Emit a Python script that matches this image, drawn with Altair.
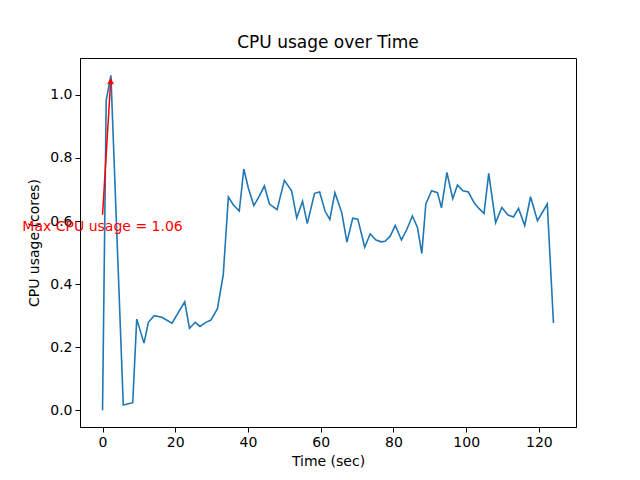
import altair as alt
import pandas as pd

time_sec = [0, 1.0, 2.3, 5.7, 8.3, 9.4, 11.4, 12.6, 14.2, 16.3,
            19.1, 22.6, 23.9, 25.5, 26.8, 28.3, 29.8, 31.6, 33.2, 34.6,
            36.0, 37.6, 38.85, 40.1, 41.6, 43.1, 44.5, 45.9, 48.0, 50.0,
            52.0, 53.4, 55.0, 56.3, 58.3, 59.7, 61.2, 62.5, 63.9, 65.8,
            67.2, 68.8, 70.2, 72.1, 73.6, 75.2, 76.6, 77.7, 79.1, 80.5,
            82.2, 83.7, 85.2, 86.6, 87.8, 88.9, 90.5, 92.1, 93.2, 94.7,
            96.3, 97.6, 99.1, 100.6, 102.2, 103.5, 104.9, 106.2, 108.1, 109.8,
            111.5, 113.0, 114.4, 116.1, 117.7, 119.6, 122.3, 124.0]
cpu_cores = [0.0, 0.983, 1.062, 0.017, 0.024, 0.289, 0.213, 0.279, 0.30, 0.295,
             0.276, 0.344, 0.26, 0.279, 0.266, 0.278, 0.286, 0.322, 0.43, 0.676,
             0.651, 0.632, 0.765, 0.704, 0.649, 0.679, 0.711, 0.654, 0.636, 0.729,
             0.696, 0.61, 0.663, 0.592, 0.688, 0.692, 0.631, 0.605, 0.69, 0.626,
             0.533, 0.609, 0.606, 0.517, 0.559, 0.54, 0.534, 0.536, 0.552, 0.586,
             0.54, 0.574, 0.616, 0.58, 0.497, 0.654, 0.696, 0.69, 0.642, 0.754,
             0.671, 0.714, 0.696, 0.692, 0.658, 0.64, 0.624, 0.751, 0.595, 0.643,
             0.619, 0.613, 0.64, 0.586, 0.677, 0.601, 0.654, 0.277]

x_ticks = [0, 20, 40, 60, 80, 100, 120]
y_ticks = [0.0, 0.2, 0.4, 0.6, 0.8, 1.0]

df = pd.DataFrame({"t": time_sec, "cpu": cpu_cores})
imax = max(range(len(cpu_cores)), key=lambda i: cpu_cores[i])
max_t, max_v = time_sec[imax], cpu_cores[imax]
label = f"Max CPU usage = {max_v:.2f}"

text_pos = {"t": 0.0, "cpu": 0.58}
arrow_start = {"t": 0.0, "cpu": 0.62}

xscale = alt.Scale(domain=[-6.2, 130.2], nice=False, zero=False)
yscale = alt.Scale(domain=[-0.053, 1.117], nice=False, zero=False)

xaxis = alt.Axis(values=x_ticks, format="d", title="Time (sec)", grid=False)
yaxis = alt.Axis(values=y_ticks, format=".1f", title="CPU usage (cores)", grid=False)

line = alt.Chart(df).mark_line(color="#1f77b4", strokeWidth=1.6).encode(
    x=alt.X("t:Q", scale=xscale, axis=xaxis),
    y=alt.Y("cpu:Q", scale=yscale, axis=yaxis),
)

arrow_df = pd.DataFrame({"t": [arrow_start["t"]], "cpu": [arrow_start["cpu"]],
                         "t2": [max_t - 0.05], "cpu2": [max_v - 0.015]})
arrow = alt.Chart(arrow_df).mark_rule(color="red", strokeWidth=1.5).encode(
    x=alt.X("t:Q", scale=xscale), y=alt.Y("cpu:Q", scale=yscale),
    x2="t2:Q", y2="cpu2:Q",
)
head_df = pd.DataFrame({"t": [max_t - 0.05], "cpu": [max_v - 0.018]})
head = alt.Chart(head_df).mark_point(shape="triangle-up", filled=True, color="red",
                                     size=45, angle=3.5, opacity=1).encode(
    x=alt.X("t:Q", scale=xscale), y=alt.Y("cpu:Q", scale=yscale),
)

txt_df = pd.DataFrame({"t": [text_pos["t"]], "cpu": [text_pos["cpu"]], "label": [label]})
txt = alt.Chart(txt_df).mark_text(color="red", fontSize=14, font="DejaVu Sans",
                                  align="center", baseline="middle").encode(
    x=alt.X("t:Q", scale=xscale), y=alt.Y("cpu:Q", scale=yscale), text="label:N",
)

chart = alt.layer(line, arrow, head, txt).properties(
    width=496, height=369,
    title=alt.TitleParams("CPU usage over Time", fontSize=17, font="DejaVu Sans",
                          fontWeight="normal", color="black", offset=6,
                          anchor="middle", frame="group"),
    autosize=alt.AutoSizeParams(type="none"),
    padding={"left": 72, "top": 50, "right": 56, "bottom": 45},
).configure_view(stroke="black", strokeWidth=1).configure_axis(
    domainColor="black", domainWidth=1, tickColor="black", tickSize=5,
    labelColor="black", labelFont="DejaVu Sans", labelFontSize=14,
    labelPadding=3, titleFont="DejaVu Sans", titleFontSize=14,
    titleFontWeight="normal", titleColor="black",
).configure_axisX(titlePadding=5).configure_axisY(titlePadding=8)

chart.save("out.html", embed_options={"renderer": "svg", "actions": False})
